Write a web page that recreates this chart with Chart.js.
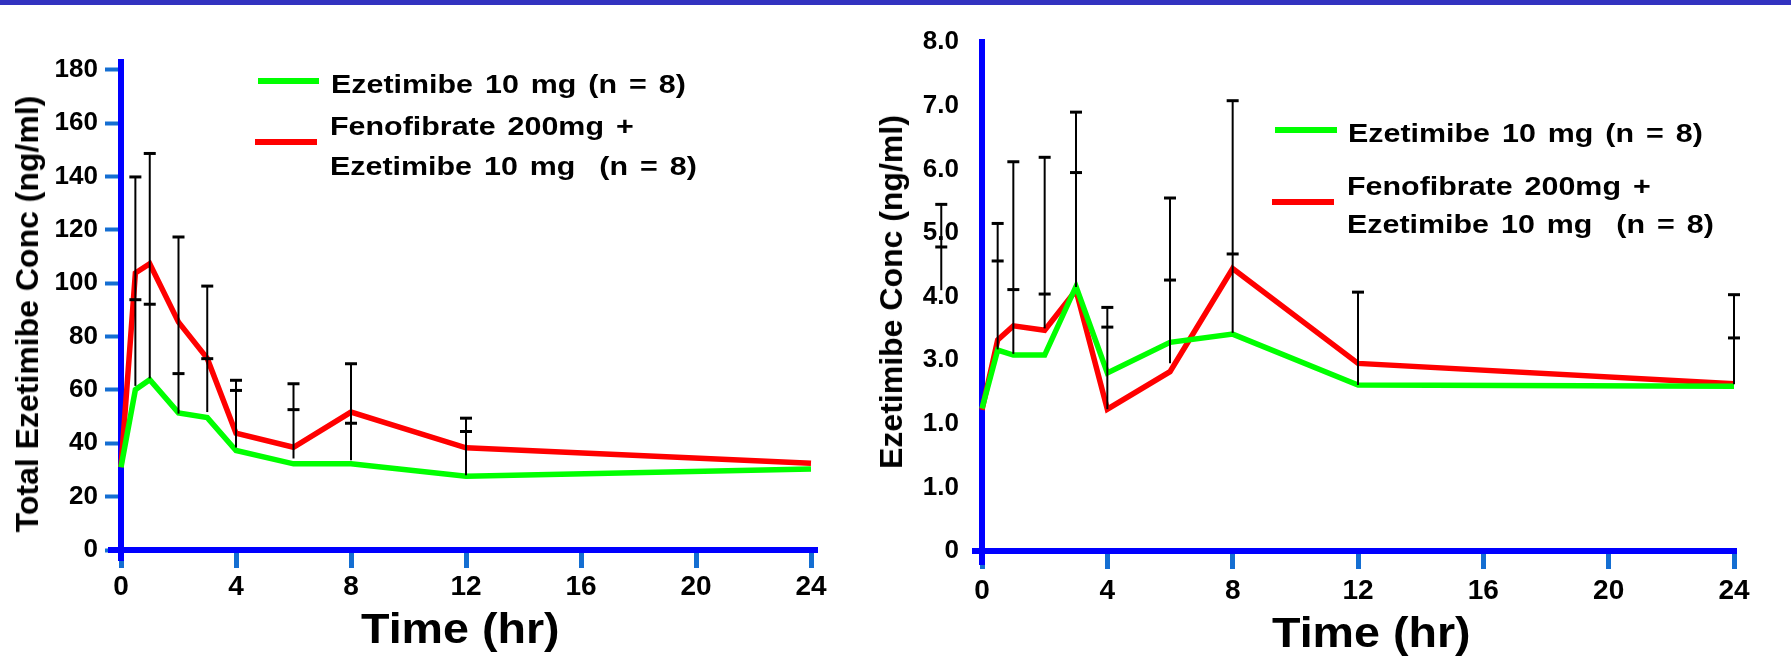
<!DOCTYPE html>
<html>
<head>
<meta charset="utf-8">
<script src="https://cdn.jsdelivr.net/npm/chart.js"></script>
<style>
html,body{margin:0;padding:0;background:#fff;}
body{width:1791px;height:662px;position:relative;overflow:hidden;}
#topbar{position:absolute;left:0;top:0;width:1791px;height:5px;background:#3232C0;}
.box{position:absolute;top:0;}
.box canvas{display:block;}
.txt{position:absolute;font-family:'Liberation Sans',Arial,Helvetica,sans-serif;font-weight:bold;color:#000;line-height:1;white-space:pre;transform-origin:0 0;}
.leg{font-size:26px;transform:scaleX(1.17);word-spacing:3px;}
.sw{position:absolute;height:6px;}
.xt{font-size:42px;transform:scaleX(1.11);}
.yt{font-size:32px;transform-origin:50% 50%;transform:translate(-50%,-50%) rotate(-90deg);}
</style>
</head>
<body>
<div id="topbar"></div>
<div class="box" style="left:0;width:880px;height:662px"><canvas id="c1" width="880" height="662"></canvas></div>
<div class="box" style="left:880px;width:911px;height:662px"><canvas id="c2" width="911" height="662"></canvas></div>

<!-- left chart legend -->
<div class="sw" style="left:258px;top:78px;width:61px;background:#00FF00"></div>
<div class="txt leg" style="left:331px;top:71px">Ezetimibe 10 mg (n = 8)</div>
<div class="sw" style="left:255px;top:139px;width:62px;background:#FF0000"></div>
<div class="txt leg" style="left:330px;top:113px">Fenofibrate 200mg +</div>
<div class="txt leg" style="left:330px;top:153px">Ezetimibe 10 mg  (n = 8)</div>

<!-- right chart legend -->
<div class="sw" style="left:1275px;top:127px;width:62px;background:#00FF00"></div>
<div class="txt leg" style="left:1348px;top:120px">Ezetimibe 10 mg (n = 8)</div>
<div class="sw" style="left:1272px;top:199px;width:62px;background:#FF0000"></div>
<div class="txt leg" style="left:1347px;top:173px">Fenofibrate 200mg +</div>
<div class="txt leg" style="left:1347px;top:211px">Ezetimibe 10 mg  (n = 8)</div>

<!-- axis titles -->
<div class="txt xt" style="left:361px;top:608px">Time (hr)</div>
<div class="txt xt" style="left:1272px;top:612px">Time (hr)</div>
<div class="txt yt" style="left:27px;top:314px">Total Ezetimibe Conc (ng/ml)</div>
<div class="txt yt" style="left:891px;top:292px">Ezetimibe Conc (ng/ml)</div>

<script>
// ---------- data ----------
const hours = [0, 0.5, 1, 2, 3, 4, 6, 8, 12, 24];

// left chart: total ezetimibe (ng/ml)
const totalAlone = [31, 60.1, 63.8, 51.4, 49.6, 37.3, 32.3, 32.3, 27.6, 30.4];
const totalFeno  = [31, 103.8, 107.3, 85.4, 71.8, 43.8, 38.5, 51.7, 38.3, 32.5];
const totalErrHours   = [0.5, 1, 2, 3, 4, 6, 8, 12];
const totalErrBase    = [61.5, 64.3, 51.1, 51.7, 38.4, 34.3, 33.6, 28];
const totalErrCapHigh = [139.8, 148.6, 117.3, 98.9, 63.6, 62.3, 69.8, 49.4];
const totalErrCapLow  = [93.8, 92.1, 66.1, 71.7, 59.8, 52.6, 47.5, 44.4];

// right chart: ezetimibe (ng/ml)
const freeAlone = [2.24, 3.16, 3.08, 3.08, 4.16, 2.80, 3.28, 3.41, 2.61, 2.59];
const freeFeno  = [2.22, 3.32, 3.54, 3.47, 4.10, 2.23, 2.82, 4.44, 2.95, 2.63];
const freeErrHours   = [-1.3, 0.5, 1, 2, 3, 4, 6, 8, 12, 24];
const freeErrBase    = [4.1, 3.17, 3.1, 3.5, 4.15, 2.23, 2.95, 3.43, 2.61, 2.62];
const freeErrCapHigh = [5.45, 5.15, 6.12, 6.19, 6.90, 3.83, 5.55, 7.08, 4.07, 4.03];
const freeErrCapLow  = [4.78, 4.56, 4.11, 4.04, 5.95, 3.52, 4.26, 4.67, null, 3.35];

// tick labels
const timeTickLabels  = ['0', '4', '8', '12', '16', '20', '24'];
const totalTickLabels = ['0', '20', '40', '60', '80', '100', '120', '140', '160', '180'];
const freeTickLabels  = ['0', '1.0', '1.0', '3.0', '4.0', '5.0', '6.0', '7.0', '8.0'];

const seriesNames = ['Ezetimibe 10 mg (n = 8)', 'Fenofibrate 200mg + Ezetimibe 10 mg  (n = 8)'];

// ---------- helpers ----------
const FONT = "'Liberation Sans', Arial, Helvetica, sans-serif";
const GREEN = '#00FF00', RED = '#FF0000', AXIS = '#0000FF', TICK = '#146ED2';

function pts(xs, ys) { return xs.map((x, i) => ({x: x, y: ys[i]})); }

const axisLinePlugin = {
  id: 'axisLines',
  beforeDatasetsDraw(chart, args, o) {
    const {ctx, chartArea: a} = chart;
    ctx.save();
    ctx.strokeStyle = o.color;
    ctx.lineCap = 'butt';
    ctx.lineWidth = o.yWidth;
    ctx.beginPath(); ctx.moveTo(a.left, a.top); ctx.lineTo(a.left, a.bottom + o.below); ctx.stroke();
    ctx.lineWidth = o.xWidth;
    ctx.beginPath(); ctx.moveTo(a.left - o.leftExt, a.bottom); ctx.lineTo(a.right + o.rightExt, a.bottom); ctx.stroke();
    ctx.restore();
  }
};

const errorBarPlugin = {
  id: 'errorBars',
  afterDatasetsDraw(chart) {
    const {ctx} = chart;
    const xs = chart.scales.x, ys = chart.scales.y;
    chart.data.datasets.forEach(ds => {
      if (!ds.errCaps) return;
      ds.data.forEach((p, i) => {
        const caps = ds.errCaps.map(arr => arr[i]).filter(v => v !== null && v !== undefined);
        if (!caps.length) return;
        const px = xs.getPixelForValue(p.x);
        const pBase = ys.getPixelForValue(p.y);
        const pTop = ys.getPixelForValue(Math.max.apply(null, caps));
        ctx.save();
        ctx.strokeStyle = '#000';
        ctx.lineCap = 'butt';
        ctx.lineWidth = 2;
        ctx.beginPath(); ctx.moveTo(px, pBase); ctx.lineTo(px, pTop); ctx.stroke();
        ctx.lineWidth = 3;
        caps.forEach(c => {
          const py = ys.getPixelForValue(c);
          ctx.beginPath(); ctx.moveTo(px - 6, py); ctx.lineTo(px + 6, py); ctx.stroke();
        });
        ctx.restore();
      });
    });
  }
};

function lineDs(label, xs, ys, color) {
  return {label: label, data: pts(xs, ys), borderColor: color, backgroundColor: color,
          borderWidth: 5.5, pointRadius: 0, tension: 0, fill: false, clip: false,
          borderJoinStyle: 'miter', borderCapStyle: 'butt'};
}
function errDs(xs, base, caps) {
  return {label: 'SD', data: pts(xs, base), showLine: false, pointRadius: 0,
          borderWidth: 0, errCaps: caps, clip: false};
}

function tickFont(size) { return {family: FONT, size: size, weight: 'bold'}; }

// ---------- left chart ----------
new Chart(document.getElementById('c1'), {
  type: 'line',
  data: {
    datasets: [
      lineDs(seriesNames[0], hours, totalAlone, GREEN),
      lineDs(seriesNames[1], hours, totalFeno, RED),
      errDs(totalErrHours, totalErrBase, [totalErrCapHigh, totalErrCapLow])
    ]
  },
  options: {
    responsive: false, animation: false, events: [],
    layout: {padding: {left: 0, top: 59, right: 69, bottom: 0}},
    plugins: {
      legend: {display: false}, tooltip: {enabled: false},
      axisLines: {color: AXIS, yWidth: 6, xWidth: 6, below: 11, leftExt: 13, rightExt: 7}
    },
    scales: {
      x: {
        type: 'linear', min: 0, max: 24,
        border: {display: false},
        grid: {drawOnChartArea: false, drawTicks: true, tickLength: 18, tickWidth: 5, tickColor: TICK},
        ticks: {stepSize: 4, padding: 2, maxRotation: 0, autoSkip: false, color: '#000',
                font: tickFont(28), callback: (v, i) => timeTickLabels[i]},
        afterFit: s => { s.height = 112; }
      },
      y: {
        type: 'linear', min: 0, max: 184,
        border: {display: false},
        grid: {drawOnChartArea: false, drawTicks: true, tickLength: 16, tickWidth: 4, tickColor: TICK},
        ticks: {stepSize: 20, includeBounds: false, padding: 7, autoSkip: false, color: '#000',
                font: tickFont(26), callback: (v, i) => totalTickLabels[i]},
        afterFit: s => { s.width = 121; }
      }
    }
  },
  plugins: [axisLinePlugin, errorBarPlugin]
});

// ---------- right chart ----------
new Chart(document.getElementById('c2'), {
  type: 'line',
  data: {
    datasets: [
      lineDs(seriesNames[0], hours, freeAlone, GREEN),
      lineDs(seriesNames[1], hours, freeFeno, RED),
      errDs(freeErrHours, freeErrBase, [freeErrCapHigh, freeErrCapLow])
    ]
  },
  options: {
    responsive: false, animation: false, events: [],
    layout: {padding: {left: 0, top: 39, right: 57, bottom: 0}},
    plugins: {
      legend: {display: false}, tooltip: {enabled: false},
      axisLines: {color: AXIS, yWidth: 6, xWidth: 6, below: 14, leftExt: 10, rightExt: 3}
    },
    scales: {
      x: {
        type: 'linear', min: 0, max: 24,
        border: {display: false},
        grid: {drawOnChartArea: false, drawTicks: true, tickLength: 18, tickWidth: 5, tickColor: TICK},
        ticks: {stepSize: 4, padding: 5, maxRotation: 0, autoSkip: false, color: '#000',
                font: tickFont(28), callback: (v, i) => timeTickLabels[i]},
        afterFit: s => { s.height = 111; }
      },
      y: {
        type: 'linear', min: 0, max: 8.05,
        border: {display: false},
        grid: {drawOnChartArea: false, drawTicks: false},
        ticks: {stepSize: 1, includeBounds: false, padding: 23, autoSkip: false, color: '#000',
                font: tickFont(26), callback: (v, i) => freeTickLabels[i]},
        afterFit: s => { s.width = 102; }
      }
    }
  },
  plugins: [axisLinePlugin, errorBarPlugin]
});
</script>
</body>
</html>
